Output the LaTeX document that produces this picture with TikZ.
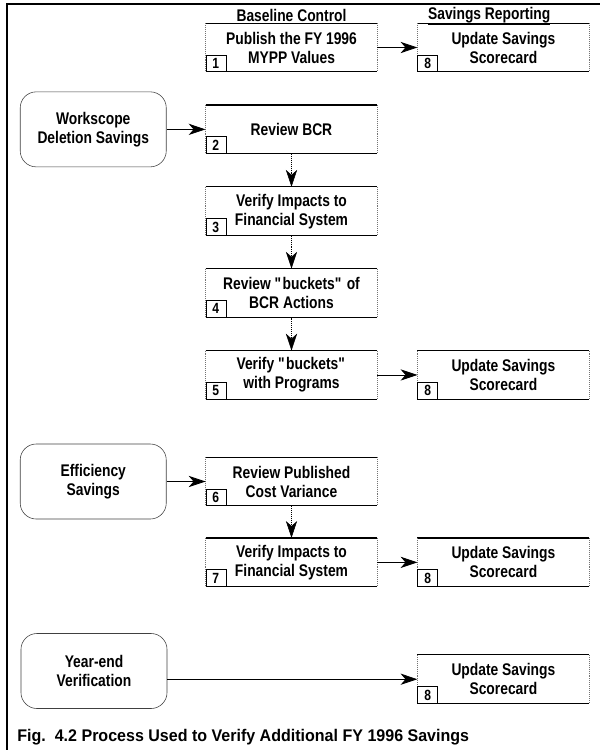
\documentclass[tikz,border=0pt]{standalone}
\usepackage{fontspec}
\setmainfont{Liberation Sans}[FakeStretch=0.82]
\newfontfamily\capfont{Liberation Sans}[FakeStretch=0.95]
\usetikzlibrary{arrows.meta,positioning}

\tikzset{
  process/.style={minimum width=4.275cm, minimum height=1.2cm, align=center, inner sep=0pt},
  source/.style={draw=black!75, thin, rounded corners=0.4cm, minimum width=3.65cm,
                 minimum height=1.875cm, align=center},
  tag/.style={draw, thin, anchor=south west, minimum width=0.5cm, minimum height=0.42cm,
              inner sep=0pt, font=\bfseries\fontsize{10.5}{10.5}\selectfont},
  header/.style={inner sep=1pt}
}

\begin{document}
\begin{tikzpicture}[x=0.025cm,y=-0.025cm,->,>={Stealth[length=12pt,width=8pt,inset=3.5pt]},
                    semithick,node distance=0.825cm and 1cm,
                    font=\bfseries\fontsize{12}{13.5}\selectfont]
    \useasboundingbox (0,0) rectangle (600,750);
    \draw[-, line width=1.3pt] (7,750) -- (7,4) -- (600,4);

    % baseline control
    \node[process] (b1) at (291.5,47.5) {Publish the FY 1996\\MYPP Values};
    \node[process] (b2) [below=of b1] {Review BCR};
    \node[process] (b3) [below=of b2] {Verify Impacts to\\Financial System};
    \node[process] (b4) [below=of b3] {Review \textquotedbl buckets\textquotedbl{} of\\BCR Actions};
    \node[process] (b5) [below=of b4] {Verify \textquotedbl buckets\textquotedbl\\with Programs};
    \node[process] (b6) at (291.5,481.5) {Review Published\\Cost Variance};
    \node[process] (b7) [below=0.8cm of b6] {Verify Impacts to\\Financial System};

    % savings sources
    \node[source] (ws) [left=0.975cm of b2] {Workscope\\Deletion Savings};
    \node[source] (eff) [left=0.975cm of b6] {Efficiency\\Savings};
    \node[source] (ye) at (94,671) {Year-end\\Verification};

    % savings reporting
    \node[process] (s1) [right=of b1] {Update Savings\\Scorecard};
    \node[process] (s2) [right=of b5] {Update Savings\\Scorecard};
    \node[process] (s3) [right=of b7] {Update Savings\\Scorecard};
    \node[process] (s4) [below=1.7cm of s3] {Update Savings\\Scorecard};

    \foreach \n in {b1,b2,b3,b4,b5,b6,b7,s1,s2,s3,s4} {
        \draw[-, thick] (\n.north west) -- (\n.north east) (\n.south west) -- (\n.south east);
        \draw[-, thin, densely dotted, black!55] (\n.north west) -- (\n.south west)
                                                  (\n.north east) -- (\n.south east);
    }
    \foreach \n/\t in {b1/1,b2/2,b3/3,b4/4,b5/5,b6/6,b7/7,s1/8,s2/8,s3/8,s4/8}
        \node[tag] (tag-\n) at (\n.south west) {\t};

    \node[header] (hbase) [above=-2pt of b1] {\underline{Baseline Control}};
    \node[header] (hsave) [above right=-3pt and 0.22cm of s1.north west] {\underline{Savings Reporting}};

    \path (b1) edge (s1)
          (ws) edge (b2)
          (b5) edge (s2)
          (eff) edge (b6)
          (b7) edge (s3)
          (ye.east |- s4) edge (s4);
    \path[densely dotted, thin]
          (b2) edge (b3)
          (b3) edge (b4)
          (b4) edge (b5)
          (b6) edge (b7);

    \node[anchor=west, inner sep=0pt] (caption) at (17,737)
        {\capfont Fig.\ \ 4.2 Process Used to Verify Additional FY 1996 Savings};
\end{tikzpicture}
\end{document}
